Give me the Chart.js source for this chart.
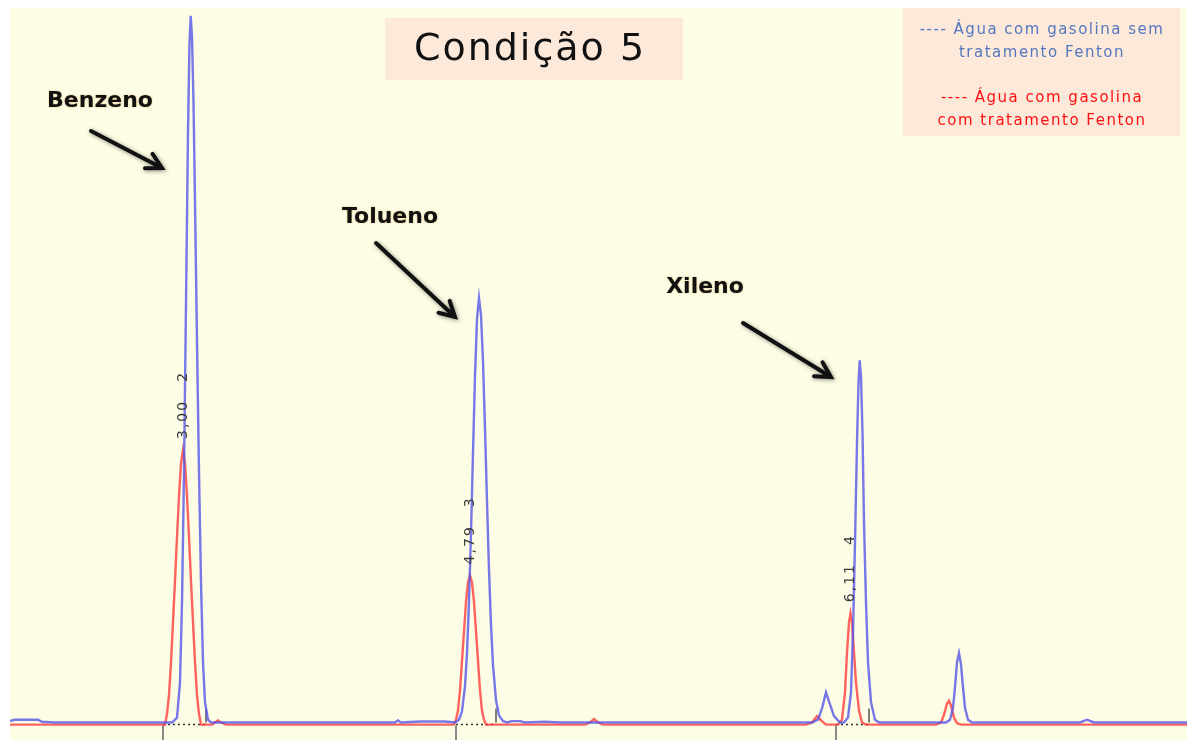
<!DOCTYPE html>
<html lang="pt-BR">
<head>
<meta charset="utf-8">
<title>Condição 5</title>
<script src="https://cdn.jsdelivr.net/npm/chart.js@4.4.1/dist/chart.umd.min.js"></script>
<style>
html, body { margin: 0; padding: 0; background: #fff; }
#caixa { width: 1187px; height: 740px; position: relative; }
</style>
</head>
<body>
<div id="caixa"><canvas id="cromatograma"></canvas></div>
<script>
// tempo de retencao (min) e sinal de cada cromatograma
const temposAzul = [0.00, 0.05, 0.28, 0.32, 0.45, 1.50,
  1.62, 1.67, 1.70, 1.72, 1.74, 1.76, 1.78, 1.795, 1.807, 1.82, 1.835, 1.85, 1.87, 1.89, 1.91, 1.93, 1.95, 1.98, 2.01,
  2.90, 3.85, 3.88, 3.91, 4.10, 4.35, 4.45,
  4.49, 4.52, 4.55, 4.57, 4.59, 4.61, 4.63, 4.65, 4.67, 4.69, 4.71, 4.73, 4.75, 4.77, 4.79, 4.81, 4.83, 4.86, 4.89, 4.93, 4.97,
  5.02, 5.10, 5.15, 5.35, 5.50, 8.02, 8.08, 8.12, 8.16, 8.20, 8.24, 8.30,
  8.34, 8.38, 8.41, 8.43, 8.45, 8.47, 8.485, 8.497, 8.51, 8.525, 8.54, 8.56, 8.58, 8.61, 8.65, 8.69,
  9.36, 9.40, 9.43, 9.45, 9.47, 9.49, 9.51, 9.53, 9.55, 9.58, 9.62, 10.70, 10.77, 10.84, 11.77];
const sinalAzul = [0.2, 0.4, 0.4, 0.1, 0, 0,
  0, 0.7, 5.7, 17.1, 35.7, 60, 84.3, 97.1, 100.9, 97.9, 88.6, 74.3, 54.3, 35.7, 20, 8.6, 2.9, 0.4, 0,
  0, 0, 0.3, 0, 0.15, 0.15, 0,
  0.4, 1.6, 5.2, 9.9, 17.2, 27.1, 38.5, 49.5, 57.6, 60.6, 58.2, 51.5, 42, 31.5, 21.8, 13.9, 8.2, 3.2, 1, 0.2, 0,
  0.2, 0.2, 0, 0.1, 0, 0, 0.4, 2, 4.3, 2.6, 0.9, 0,
  0, 0.7, 4.3, 12.9, 25.7, 40, 48.6, 51.7, 49.3, 41.4, 28.6, 17.1, 8.6, 2.9, 0.4, 0,
  0, 0.4, 2.1, 5, 8.6, 9.9, 8.3, 5, 2.1, 0.4, 0, 0, 0.4, 0, 0];

const temposVermelho = [0.00, 1.55, 1.57, 1.59, 1.61, 1.63, 1.65, 1.67, 1.69, 1.71, 1.73, 1.75, 1.77, 1.79, 1.81, 1.83, 1.85, 1.87, 1.89, 1.91,
  2.02, 2.05, 2.08, 2.11, 2.16,
  4.44, 4.46, 4.48, 4.50, 4.52, 4.54, 4.56, 4.58, 4.60, 4.62, 4.64, 4.66, 4.68, 4.70, 4.72, 4.74, 4.76,
  5.75, 5.80, 5.84, 5.88, 5.93, 7.96, 8.02, 8.07, 8.11, 8.16,
  8.28, 8.32, 8.35, 8.37, 8.39, 8.405, 8.42, 8.44, 8.46, 8.49, 8.52, 8.56,
  9.26, 9.31, 9.34, 9.37, 9.39, 9.41, 9.44, 9.47, 9.51, 11.77];
const sinalVermelho = [-0.3, -0.3, 1.2, 3.9, 8.6, 14.4, 20.2, 26.5, 32.3, 37, 38.9, 37, 32.3, 26.5, 20.2, 14.4, 8.6, 3.9, 1.2, -0.3,
  -0.3, 0, 0.3, 0, -0.3,
  -0.3, 0.4, 1.7, 4.6, 8.8, 13, 17.2, 20, 21, 20, 17.2, 13, 8.8, 4.6, 1.7, 0.4, -0.3,
  -0.3, 0, 0.5, 0, -0.3, -0.3, 0, 0.9, 0.3, -0.3,
  -0.3, 0.4, 4.3, 10, 14.3, 15.6, 14.3, 10, 5.7, 1.7, 0, -0.3,
  -0.3, 0, 1.1, 2.7, 3.1, 2.4, 0.7, -0.1, -0.3, -0.3];

// integracao dos picos principais
const picosRotulo = ['3,00', '4,79', '6,11'];
const picosNumero = ['2', '3', '4'];
const picosTempo = [1.73, 4.60, 8.405];
const picosAltura = [38.9, 21, 15.6];
const inicioPicos = [1.53, 4.46, 8.26];
const fimPicos = [1.96, 4.86, 8.59];

const compostos = ['Benzeno', 'Tolueno', 'Xileno'];
const legendaAzul = ['---- Água com gasolina sem', 'tratamento Fenton'];
const legendaVermelha = ['---- Água com gasolina', 'com tratamento Fenton'];
const titulo = 'Condição 5';

const juntarPontos = (tempos, sinais) => tempos.map((t, i) => ({ x: t, y: sinais[i] }));

const seta = (ctx, x1, y1, x2, y2) => {
  const ang = Math.atan2(y2 - y1, x2 - x1);
  const tam = 17;
  ctx.save();
  ctx.strokeStyle = '#111';
  ctx.lineWidth = 4;
  ctx.lineCap = 'round';
  ctx.lineJoin = 'miter';
  ctx.shadowColor = 'rgba(0,0,0,0.45)';
  ctx.shadowBlur = 4;
  ctx.shadowOffsetX = 1;
  ctx.shadowOffsetY = 1;
  ctx.beginPath();
  ctx.moveTo(x1, y1);
  ctx.lineTo(x2, y2);
  ctx.moveTo(x2 - tam * Math.cos(ang - 0.5), y2 - tam * Math.sin(ang - 0.5));
  ctx.lineTo(x2, y2);
  ctx.lineTo(x2 - tam * Math.cos(ang + 0.5), y2 - tam * Math.sin(ang + 0.5));
  ctx.stroke();
  ctx.restore();
};

const fundo = {
  id: 'fundo',
  beforeDraw(chart) {
    const { ctx, chartArea } = chart;
    ctx.save();
    ctx.fillStyle = '#ffffff';
    ctx.fillRect(0, 0, chart.width, chart.height);
    ctx.fillStyle = '#fdfde5';
    ctx.fillRect(chartArea.left, chartArea.top, chartArea.right - chartArea.left, chartArea.bottom - chartArea.top);
    ctx.restore();
  }
};

const marcas = {
  id: 'marcas',
  beforeDatasetsDraw(chart) {
    const { ctx, scales: { x, y } } = chart;
    ctx.save();
    inicioPicos.forEach((t, i) => {
      const xi = x.getPixelForValue(t);
      const xf = x.getPixelForValue(fimPicos[i]);
      const yb = y.getPixelForValue(0);
      ctx.strokeStyle = '#8a8a8a';
      ctx.lineWidth = 2;
      ctx.beginPath();
      ctx.moveTo(xi, yb + 3);
      ctx.lineTo(xi, chart.height);
      ctx.stroke();
      ctx.strokeStyle = '#555';
      ctx.lineWidth = 1.5;
      ctx.beginPath();
      ctx.moveTo(xf, yb - 14);
      ctx.lineTo(xf, yb);
      ctx.stroke();
      ctx.strokeStyle = '#333';
      ctx.setLineDash([2, 3]);
      ctx.beginPath();
      ctx.moveTo(xi, yb + 2);
      ctx.lineTo(xf, yb + 2);
      ctx.stroke();
      ctx.setLineDash([]);
    });
    ctx.restore();
  },
  afterDatasetsDraw(chart) {
    const { ctx, scales: { x, y } } = chart;
    ctx.save();
    ctx.fillStyle = '#3a3a3a';
    ctx.font = '14px "DejaVu Sans"';
    ctx.letterSpacing = '2px';
    ctx.textBaseline = 'middle';
    ctx.textAlign = 'left';
    picosTempo.forEach((t, i) => {
      const px = x.getPixelForValue(t);
      const py = y.getPixelForValue(picosAltura[i]) - 11;
      ctx.save();
      ctx.translate(px, py);
      ctx.rotate(-Math.PI / 2);
      ctx.fillText(picosRotulo[i], 0, 0);
      const larg = ctx.measureText(picosRotulo[i]).width;
      ctx.fillText(picosNumero[i], larg + 18, 0);
      ctx.restore();
    });
    ctx.restore();
  },
  afterDraw(chart) {
    const ctx = chart.ctx;
    ctx.save();
    // titulo
    ctx.fillStyle = '#fde9da';
    ctx.fillRect(385, 18, 298, 62);
    ctx.fillStyle = '#111';
    ctx.font = '38px "DejaVu Sans"';
    ctx.letterSpacing = '2px';
    ctx.textAlign = 'center';
    ctx.textBaseline = 'middle';
    ctx.fillText(titulo, 530, 50);

    // legenda
    ctx.fillStyle = '#fde9da';
    ctx.fillRect(903, 8, 277, 128);
    ctx.font = '15px "DejaVu Sans"';
    ctx.letterSpacing = '1.5px';
    ctx.fillStyle = '#5477bf';
    ctx.fillText(legendaAzul[0], 1042, 30);
    ctx.fillText(legendaAzul[1], 1042, 53);
    ctx.fillStyle = '#ff1010';
    ctx.fillText(legendaVermelha[0], 1042, 98);
    ctx.fillText(legendaVermelha[1], 1042, 121);

    // nomes dos compostos
    ctx.font = 'bold 22px "DejaVu Sans"';
    ctx.letterSpacing = '0px';
    ctx.fillStyle = '#111';
    ctx.shadowColor = 'rgba(200,120,0,0.5)';
    ctx.shadowBlur = 2;
    ctx.fillText(compostos[0], 100, 101);
    ctx.fillText(compostos[1], 390, 217);
    ctx.fillText(compostos[2], 705, 287);
    ctx.restore();

    seta(ctx, 91, 131, 162, 168);
    seta(ctx, 376, 243, 455, 317);
    seta(ctx, 743, 323, 831, 377);
  }
};

const datasets = [
  {
    label: 'Água com gasolina sem tratamento Fenton',
    data: juntarPontos(temposAzul, sinalAzul),
    borderColor: 'rgba(85, 85, 232, 0.8)',
    borderWidth: 2.4,
    pointRadius: 0,
    tension: 0
  },
  {
    label: 'Água com gasolina com tratamento Fenton',
    data: juntarPontos(temposVermelho, sinalVermelho),
    borderColor: 'rgba(255, 60, 60, 0.8)',
    borderWidth: 2.4,
    pointRadius: 0,
    tension: 0
  }
];

const config = {
  type: 'line',
  data: { datasets },
  options: {
    responsive: true,
    maintainAspectRatio: false,
    animation: false,
    layout: { padding: { left: 10, top: 8, right: 0, bottom: 0 } },
    scales: {
      x: { type: 'linear', min: 0, max: 11.77, display: false },
      y: { type: 'linear', min: -2.5, max: 102, display: false }
    },
    plugins: {
      legend: { display: false },
      tooltip: { enabled: false }
    }
  },
  plugins: [fundo, marcas]
};

const myChart = new Chart(document.getElementById('cromatograma'), config);
</script>
</body>
</html>
